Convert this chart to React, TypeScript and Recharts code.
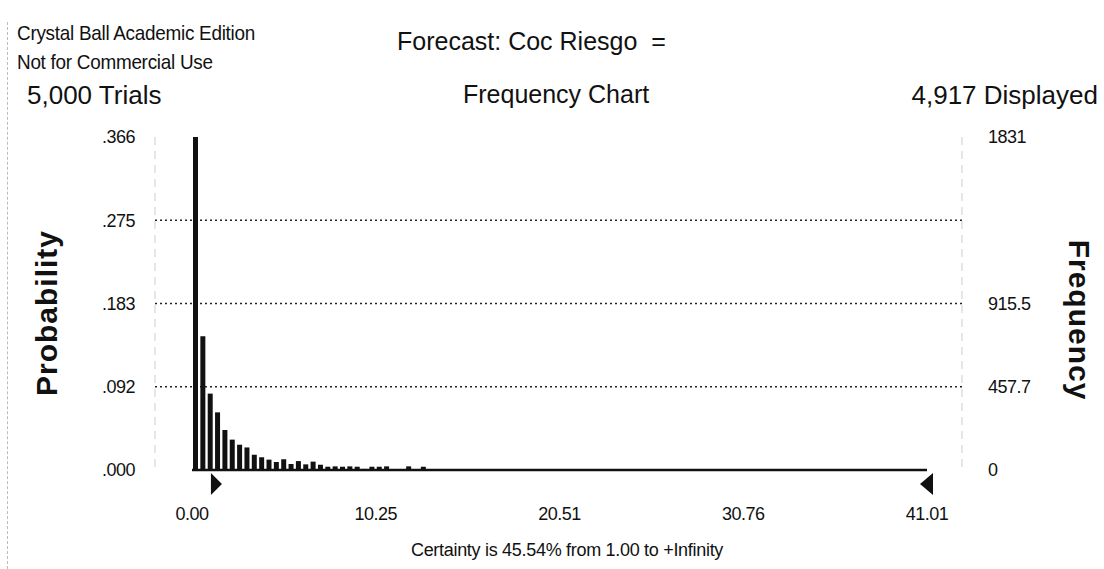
import { ComposedChart, Bar, Line, XAxis, YAxis, CartesianGrid, ReferenceLine, ReferenceDot } from 'recharts';

// Crystal Ball forecast "Coc Riesgo" - frequency chart, 100 cells
const TRIALS = 5000;
const DISPLAYED = 4917;
const RANGE_MIN = 0;
const RANGE_MAX = 41.01;
const CERTAINTY_FROM = 1.0;
const CERTAINTY_PCT = 45.54;

// counts per cell (left to right)
const frequencies = [
  1831, 735, 420, 317, 220, 167, 139, 124, 84, 70,
  57, 44, 59, 33, 49, 31, 46, 29, 18, 20,
  18, 20, 18, 6, 18, 18, 20, 5, 4, 20,
  4, 18, 5, 4, 5, 3, 4, 5, 3, 4,
  3, 3, 3, 4, 3, 2, 3, 3, 2, 3,
  3, 2, 3, 2, 2, 3, 1, 2, 2, 1,
  2, 2, 1, 2, 1, 1, 2, 1, 1, 2,
  1, 1, 0, 1, 2, 0, 1, 1, 0, 1,
  1, 0, 1, 0, 1, 1, 0, 0, 1, 0,
  1, 0, 0, 1, 0, 1, 0, 0, 0, 1,
];

const xTicks = [0, 10.25, 20.51, 30.76, 41.01];
const tickFractions = [0, 0.25, 0.5, 0.75, 1];
const gridFractions = [0.25, 0.5, 0.75];
const rightTickFractions = [0, 0.25, 0.5, 1];

const binWidth = (RANGE_MAX - RANGE_MIN) / frequencies.length;
const maxFreq = Math.max(...frequencies);
const maxProb = maxFreq / TRIALS;

const cells = frequencies.map((freq, i) => ({
  x: RANGE_MIN + (i + 0.5) * binWidth,
  freq,
  prob: freq / TRIALS,
}));

const FONT = "'Liberation Sans', Arial, sans-serif";
const INK = '#111';

const formatProb = (v: number) => v.toFixed(3).replace(/^0/, '');
const formatFreq = (v: number) => (Number.isInteger(v) ? String(v) : String(Math.floor(v * 10) / 10));

const rightMarker = (props: any) => {
  const { cx, cy } = props;
  return <path d={`M${cx + 1},${cy + 3} L${cx + 12},${cy + 14} L${cx + 1},${cy + 25} Z`} fill={INK} />;
};

const leftMarker = (props: any) => {
  const { cx, cy } = props;
  return <path d={`M${cx + 6},${cy + 3} L${cx - 7},${cy + 14} L${cx + 6},${cy + 25} Z`} fill={INK} />;
};

const textStyle = (size: number): React.CSSProperties => ({
  position: 'absolute',
  fontFamily: FONT,
  fontSize: size,
  lineHeight: 1,
  color: INK,
  whiteSpace: 'pre',
});

export default function App() {
  const tickStyle = { fontSize: 18, fill: INK, fontFamily: FONT, letterSpacing: -0.5 };

  return (
    <div style={{ position: 'absolute', left: 0, top: 0, width: 1104, height: 569, background: '#fff', overflow: 'hidden' }}>
      {/* scan frame edge */}
      <div style={{ position: 'absolute', left: 7, top: 22, height: 547, borderLeft: '1px dashed #bbb' }} />

      <div style={{ ...textStyle(21), left: 17, top: 22, transform: 'scaleX(0.9)', transformOrigin: 'left top', letterSpacing: -0.3 }}>
        Crystal Ball Academic Edition
      </div>
      <div style={{ ...textStyle(21), left: 17, top: 51, transform: 'scaleX(0.9)', transformOrigin: 'left top', letterSpacing: -0.3 }}>
        Not for Commercial Use
      </div>
      <div style={{ ...textStyle(26), left: 27, top: 82 }}>{TRIALS.toLocaleString('en-US')} Trials</div>
      <div style={{ ...textStyle(25), left: 397, top: 29 }}>Forecast: Coc Riesgo  =</div>
      <div style={{ ...textStyle(25), left: 463, top: 82 }}>Frequency Chart</div>
      <div style={{ ...textStyle(26), right: 6, top: 82 }}>{DISPLAYED.toLocaleString('en-US')} Displayed</div>

      <div
        style={{
          ...textStyle(30),
          left: 47,
          top: 313,
          fontWeight: 'bold',
          letterSpacing: 1,
          transform: 'translate(-50%, -50%) rotate(-90deg)',
        }}
      >
        Probability
      </div>
      <div
        style={{
          ...textStyle(30),
          left: 1079,
          top: 320,
          fontWeight: 'bold',
          letterSpacing: 1,
          transform: 'translate(-50%, -50%) rotate(90deg)',
        }}
      >
        Frequency
      </div>

      <ComposedChart
        width={1104}
        height={569}
        data={cells}
        margin={{ top: 137, right: 82, bottom: 59, left: 95 }}
        style={{ position: 'absolute', left: 0, top: 0 }}
      >
        <CartesianGrid
          yAxisId="prob"
          vertical={false}
          horizontalValues={gridFractions.map((f) => f * maxProb)}
          stroke="#222"
          strokeWidth={1.6}
          strokeDasharray="2 3"
        />
        <XAxis
          type="number"
          dataKey="x"
          domain={[RANGE_MIN, RANGE_MAX]}
          ticks={xTicks}
          tickFormatter={(v: number) => v.toFixed(2)}
          padding={{ left: 37, right: 35 }}
          height={40}
          axisLine={false}
          tickLine={false}
          tickMargin={31}
          tick={tickStyle}
          interval={0}
        />
        <YAxis
          yAxisId="prob"
          orientation="left"
          width={60}
          domain={[0, maxProb]}
          ticks={tickFractions.map((f) => f * maxProb)}
          tickFormatter={formatProb}
          axisLine={{ stroke: '#ccc', strokeDasharray: '8 6' }}
          tickLine={false}
          tickMargin={14}
          tick={tickStyle}
          interval={0}
        />
        <YAxis
          yAxisId="freq"
          orientation="right"
          width={60}
          domain={[0, maxFreq]}
          ticks={rightTickFractions.map((f) => f * maxFreq)}
          tickFormatter={formatFreq}
          axisLine={{ stroke: '#ccc', strokeDasharray: '8 6' }}
          tickLine={false}
          tickMargin={20}
          tick={{ ...tickStyle, textAnchor: 'start' }}
          interval={0}
        />
        <Bar yAxisId="prob" dataKey="prob" fill={INK} barSize={5} isAnimationActive={false} />
        {/* same counts on the frequency scale, only to drive the right axis */}
        <Line yAxisId="freq" dataKey="freq" stroke="none" dot={false} activeDot={false} isAnimationActive={false} />
        <ReferenceLine
          yAxisId="prob"
          segment={[
            { x: RANGE_MIN, y: 0 },
            { x: RANGE_MAX, y: 0 },
          ]}
          stroke={INK}
          strokeWidth={2.5}
        />
        <ReferenceDot yAxisId="prob" x={CERTAINTY_FROM} y={0} shape={rightMarker} />
        <ReferenceDot yAxisId="prob" x={RANGE_MAX} y={0} shape={leftMarker} />
      </ComposedChart>

      <div style={{ ...textStyle(18), left: 567, top: 541, transform: 'translateX(-50%)', letterSpacing: -0.3 }}>
        Certainty is {CERTAINTY_PCT.toFixed(2)}% from {CERTAINTY_FROM.toFixed(2)} to +Infinity
      </div>
    </div>
  );
}
